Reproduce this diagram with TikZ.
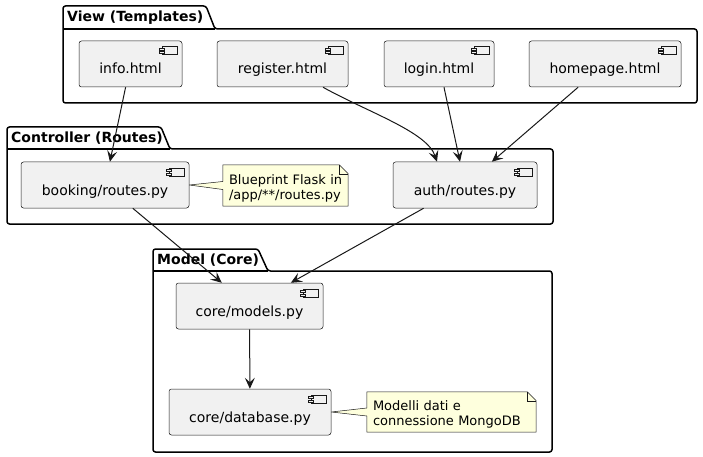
\documentclass[tikz,border=0pt]{standalone}
\usepackage{fontspec}
\setmainfont{DejaVu Sans}
\usetikzlibrary{arrows.meta,calc,backgrounds}
\definecolor{compfill}{HTML}{F1F1F1}
\definecolor{compline}{HTML}{181818}
\definecolor{notefill}{HTML}{FEFFDD}
\tikzset{
  comp/.style={draw=compline, line width=0.5pt, fill=compfill, rounded corners=2.5pt,
    minimum height=46pt, inner sep=0pt, font=\fontsize{14}{16}\selectfont,
    text height=20pt, text depth=0pt},
  notebox/.style={inner xsep=6pt, inner ysep=0pt, align=left,
    font=\fontsize{13}{15}\selectfont},
  noteline/.style={draw=compline, line width=0.5pt, fill=notefill},
  iconline/.style={draw=compline, line width=0.5pt, fill=compfill},
  pkg/.style={draw=black, line width=1.5pt, rounded corners=2.5pt},
  pkgtitle/.style={font=\bfseries\fontsize{14}{16}\selectfont, anchor=west, inner sep=0pt},
  dep/.style={draw=compline, line width=1pt,
    -{Stealth[length=11pt,width=10pt,inset=4.5pt]}},
}
\newcommand\compicon[1]{%
  \draw[iconline] ($(#1.north east)+(-20,6)$) rectangle ($(#1.north east)+(-5,14)$);
  \draw[iconline] ($(#1.north east)+(-23,7.5)$) rectangle ($(#1.north east)+(-18,9.5)$);
  \draw[iconline] ($(#1.north east)+(-23,11)$) rectangle ($(#1.north east)+(-18,13)$);}
\newcommand\noteoutline[2]{%
  \draw[noteline] (#1.north west) -- ($(#1.north east)+(-9,0)$) -- ($(#1.north east)+(0,9)$)
    -- (#1.south east) -- (#1.south west) -- ($(#1.west)+(0,4)$) -- (#2.east)
    -- ($(#1.west)+(0,-4)$) -- cycle;
  \draw[compline, line width=0.5pt] ($(#1.north east)+(-9,0)$) -- ($(#1.north east)+(-9,9)$)
    -- ($(#1.north east)+(0,9)$);}
\newcommand\notestrut{\rule{0pt}{15pt}}
\begin{document}
\begin{tikzpicture}[x=1pt,y=-1pt]
\useasboundingbox (0,0) rectangle (703,457);
% packages
\draw[pkg] (63,103) -- (63,6) -- (206,6) -- (215,29) -- (697,29) -- (697,103) -- cycle;
\draw[pkg] (63,29) -- (215,29);
\node[pkgtitle] (tview) at (67,17.5) {View (Templates)};
\draw[pkg] (7,224) -- (7,127) -- (161,127) -- (170,149) -- (553,149) -- (553,224) -- cycle;
\draw[pkg] (7,149) -- (170,149);
\node[pkgtitle] (tctrl) at (11,138.5) {Controller (Routes)};
\draw[pkg] (153,452) -- (153,249) -- (258,249) -- (268,271) -- (552,271) -- (552,452) -- cycle;
\draw[pkg] (153,271) -- (268,271);
\node[pkgtitle] (tmodel) at (157,260) {Model (Core)};
% components
\node[comp, minimum width=103pt] (info) at (130.5,64) {info.html};
\node[comp, minimum width=131pt] (register) at (282.5,64) {register.html};
\node[comp, minimum width=110pt] (login) at (439,64) {login.html};
\node[comp, minimum width=152pt] (homepage) at (605,64) {homepage.html};
\node[comp, minimum width=168pt] (booking) at (105,185) {booking/routes.py};
\node[comp, minimum width=144pt] (auth) at (465,185) {auth/routes.py};
\node[comp, minimum width=147pt] (models) at (249.5,306) {core/models.py};
\node[comp, minimum width=162pt] (database) at (250,412) {core/database.py};
\foreach \n in {info,register,login,homepage,booking,auth,models,database}{\compicon{\n}}
% notes
\node[notebox, text width=113pt, minimum height=41pt] (note1) at (285.5,185.5)
  {\notestrut\mbox{Blueprint Flask in}\\\mbox{/app/**/routes.py}};
\node[notebox, text width=157pt, minimum height=40pt] (note2) at (451.5,412)
  {\notestrut\mbox{Modelli dati e}\\\mbox{connessione MongoDB}};
\begin{scope}[on background layer]
  \noteoutline{note1}{booking}
  \noteoutline{note2}{database}
\end{scope}
% dependencies
\draw[dep] (info) -- (booking);
\draw[dep] ($(register.south)+(40.5,0)$) .. controls +(45,25) and +(-10,-30) .. ($(auth.north)+(-28,0)$);
\draw[dep] (login) -- (auth);
\draw[dep] (homepage) -- (auth);
\draw[dep] (booking) -- (models);
\draw[dep] (auth) -- (models);
\draw[dep] (models) -- (database);
\end{tikzpicture}
\end{document}
